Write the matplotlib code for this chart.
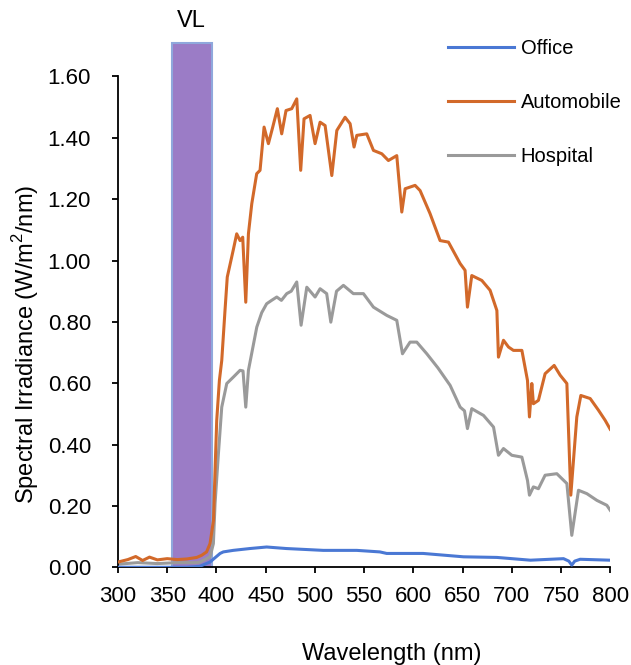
import matplotlib
matplotlib.use('Agg')
import matplotlib.pyplot as plt
from matplotlib.patches import Rectangle

plt.rcParams['font.family'] = ['Liberation Sans', 'DejaVu Sans']
plt.rcParams['mathtext.fontset'] = 'custom'
plt.rcParams['mathtext.rm'] = 'Liberation Sans'

# wavelength (nm) and spectral irradiance (W/m2/nm)
wl_auto = [300, 310, 318, 325, 332, 340, 350, 360, 370, 380, 385, 390, 393.5, 397,
           398.6, 400.3, 403, 405.4, 408.7, 411, 417, 420.6, 424, 426.7, 429.8, 432.5,
           435.9, 440.9, 444.3, 448.4, 452.8, 457.2, 461.9, 466.3, 470.7, 476.5, 481.6,
           485.6, 489, 495.1, 500.2, 505.3, 510.4, 517.2, 522.3, 530.7, 535.8, 539.8,
           542.6, 552.7, 559.5, 568, 574.7, 583.2, 588.3, 591.7, 601.8, 606.9, 617,
           627.2, 635.7, 647.6, 652.6, 655, 659.4, 669.6, 678, 684.9, 686.5, 691.6,
           696.7, 701.7, 710.3, 716, 718, 720.4, 722, 727.1, 733.9, 743.1, 749.2, 756,
           760, 766.1, 770.2, 779.7, 788.1, 794.9, 800]
irr_auto = [0.017, 0.025, 0.035, 0.022, 0.033, 0.024, 0.028, 0.025, 0.027, 0.032, 0.039,
            0.050, 0.077, 0.153, 0.316, 0.479, 0.609, 0.674, 0.837, 0.946, 1.033, 1.087,
            1.065, 1.076, 0.864, 1.087, 1.185, 1.283, 1.294, 1.435, 1.381, 1.435, 1.495,
            1.413, 1.489, 1.495, 1.527, 1.294, 1.462, 1.473, 1.381, 1.451, 1.440, 1.277,
            1.424, 1.467, 1.446, 1.370, 1.408, 1.413, 1.359, 1.348, 1.326, 1.342, 1.158,
            1.234, 1.245, 1.228, 1.153, 1.065, 1.060, 0.990, 0.968, 0.848, 0.951, 0.935,
            0.903, 0.837, 0.685, 0.740, 0.718, 0.707, 0.707, 0.609, 0.490, 0.599, 0.533,
            0.544, 0.631, 0.658, 0.626, 0.599, 0.235, 0.490, 0.560, 0.550, 0.512, 0.479,
            0.450]

wl_hosp = [300, 320, 340, 360, 380, 383.3, 393.5, 396.9, 398.6, 402, 405.4, 410.5,
           417.2, 424, 427, 429.8, 432.5, 436, 441, 446, 451, 456, 461.3, 466, 471.4,
           476, 481.6, 486, 491.8, 500.2, 505.3, 512, 516.2, 522, 529, 539.1, 549.3,
           559.5, 573.1, 583.2, 589, 596.7, 603.5, 613.7, 625, 637.4, 647.6, 652, 655,
           659.4, 671.3, 681.5, 686.5, 691.6, 700.1, 710.3, 716, 718, 722, 727.1, 733.9,
           745.8, 756, 761, 767.8, 776.3, 786.5, 796.6, 800]
irr_hosp = [0.010, 0.015, 0.012, 0.015, 0.015, 0.017, 0.034, 0.077, 0.208, 0.370, 0.522,
            0.599, 0.620, 0.642, 0.640, 0.522, 0.642, 0.700, 0.783, 0.830, 0.859, 0.870,
            0.881, 0.870, 0.892, 0.900, 0.930, 0.789, 0.913, 0.881, 0.908, 0.892, 0.799,
            0.900, 0.919, 0.892, 0.892, 0.848, 0.821, 0.805, 0.696, 0.734, 0.734, 0.696,
            0.650, 0.593, 0.522, 0.510, 0.452, 0.517, 0.495, 0.457, 0.365, 0.387, 0.365,
            0.359, 0.283, 0.235, 0.262, 0.256, 0.300, 0.305, 0.273, 0.104, 0.251, 0.240,
            0.218, 0.202, 0.186]

wl_office = [300, 370, 383, 393.5, 403.7, 407, 417, 434, 451, 471, 490, 508.6, 542.6,
             566, 573, 610, 651, 685, 719, 752.6, 758, 761, 764, 769.5, 800]
irr_office = [0.0, 0.0, 0.003, 0.017, 0.045, 0.050, 0.055, 0.061, 0.066, 0.061, 0.058,
              0.055, 0.055, 0.050, 0.045, 0.045, 0.034, 0.032, 0.023, 0.028, 0.020, 0.007,
              0.020, 0.026, 0.023]

vl_band = [355, 395]
vl_top = 1.71

fig = plt.figure(figsize=(6.31, 6.65), dpi=100)
ax = fig.add_axes([0.187, 0.147, 0.78, 0.738])

ax.add_patch(Rectangle((vl_band[0], 0), vl_band[1] - vl_band[0], vl_top,
                       facecolor='#9b7cc6', edgecolor='#8fa8dc', lw=1.5,
                       clip_on=False, zorder=1))
ax.text(sum(vl_band) / 2, 1.78, 'VL', ha='center', va='center', fontsize=17)

ax.plot(wl_office, irr_office, c='#4a78d4', lw=2.2, label='Office', zorder=3)
ax.plot(wl_auto, irr_auto, c='#d2692a', lw=2.2, label='Automobile', zorder=3)
ax.plot(wl_hosp, irr_hosp, c='#9a9a9a', lw=2.2, label='Hospital', zorder=2)

ax.set_xlim(300, 800)
ax.set_ylim(0, 1.6)
ax.set_xticks(range(300, 801, 50))
ax.set_yticks([0.0, 0.2, 0.4, 0.6, 0.8, 1.0, 1.2, 1.4, 1.6])
ax.set_yticklabels([f'{v:.2f}' for v in ax.get_yticks()])

for s in ['top', 'right']:
    ax.spines[s].set_visible(False)
for s in ['left', 'bottom']:
    ax.spines[s].set_linewidth(1.3)

ax.tick_params(axis='both', direction='out', length=4.5, width=1.3, labelsize=16,
               colors='black')
ax.tick_params(axis='y', pad=15)
ax.tick_params(axis='x', pad=9)

ax.set_xlabel('Wavelength (nm)', fontsize=17, labelpad=26)
ax.set_ylabel('Spectral Irradiance (W/m$^2$/nm)', fontsize=17, labelpad=5)
# labels in the original sit a little off the axis centre
ax.xaxis.label.set_x(0.557)
ax.yaxis.label.set_y(0.454)

fig.legend(loc='upper left', bbox_to_anchor=(448 / 631, 1 - 39 / 665),
           frameon=False, borderpad=0, borderaxespad=0, handlelength=3.3,
           handletextpad=0.3, labelspacing=1.75, fontsize=14.5)

plt.savefig('out.png', dpi=100)
